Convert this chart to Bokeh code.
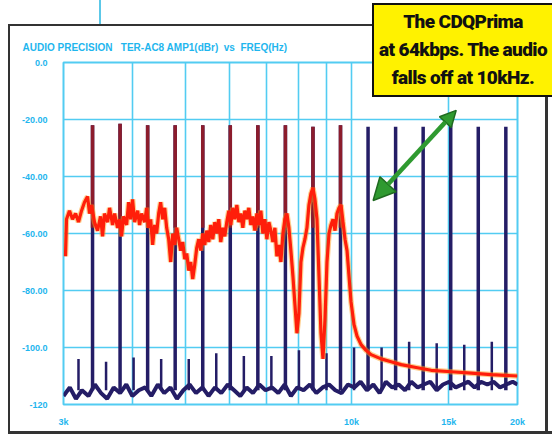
from bokeh.plotting import figure
from bokeh.models import Range1d, FixedTicker, Label, Arrow, NormalHead, Div
from bokeh.embed import file_html
from bokeh.resources import INLINE

# ---------------- data ----------------
x_ticks = [3000, 10000, 15000, 20000]
x_tick_labels = ["3k", "10k", "15k", "20k"]
x_grid = [4000, 5000, 6000, 7000, 8000, 9000, 10000, 15000]
y_ticks = [0, -20, -40, -60, -80, -100, -120]
y_tick_labels = ["0.0", "-20.00", "-40.00", "-60.00", "-80.00", "-100.0", "-120"]
y_grid = [-20, -40, -60, -80, -100]

# multitone test tones (reference / blue trace)
tone_freq = [3387, 3800, 4264, 4784, 5368, 6023, 6758, 7583, 8508, 9546,
             10711, 12018, 13484, 15130, 16976, 19048]
tone_db = [-22, -21.5, -22, -22, -22, -22, -22, -22, -22.5, -22,
           -22.5, -22.5, -22.5, -22, -22.5, -22.5]
tone_floor = -115

# tones that survive in the codec output (red trace), below 10 kHz
red_tone_freq = [3387, 3800, 4264, 4784, 5368, 6023, 6758, 7583, 8508, 9546]
red_tone_db = [-22, -21.5, -22, -22, -22, -22, -22, -22, -22.5, -22]
red_tone_base = -58

# small intermodulation spikes of the blue trace
mid_freq = [3194, 3584, 4021, 4512, 5063, 5680, 6374, 7151, 8024, 9003,
            10102, 11334, 12717, 14269, 16010, 17964]
mid_db = [-104, -105, -103.5, -104, -104, -102, -103, -103, -101, -102,
          -100, -100, -98, -98.5, -99, -98]

blue_floor = [(3000, -117), (3080, -114), (3160, -118), (3240, -115), (3330, -117), (3420, -113),
              (3510, -116), (3600, -118), (3700, -114), (3800, -116), (3900, -113), (4000, -117),
              (4110, -115), (4220, -114), (4330, -117), (4450, -113), (4570, -116), (4690, -114),
              (4820, -118), (4950, -115), (5080, -113), (5220, -116), (5360, -114), (5500, -117),
              (5650, -114), (5800, -116), (5960, -113), (6120, -115), (6280, -117), (6450, -114),
              (6620, -116), (6800, -113), (6980, -115), (7170, -114), (7360, -116), (7560, -113),
              (7760, -117), (7970, -114), (8180, -115), (8400, -113), (8630, -116), (8860, -114),
              (9100, -113), (9340, -115), (9590, -116), (9850, -113), (10110, -114), (10380, -112),
              (10660, -115), (10950, -113), (11240, -116), (11540, -112), (11850, -114), (12170, -113),
              (12500, -115), (12830, -112), (13180, -114), (13530, -113), (13890, -112), (14270, -115),
              (14650, -113), (15040, -112), (15450, -114), (15860, -113), (16290, -112), (16720, -114),
              (17170, -112), (17630, -113), (18100, -112), (18590, -114), (19090, -113), (19600, -112),
              (20000, -113)]
blue_freq = [f for f, _ in blue_floor]
blue_db = [d for _, d in blue_floor]

red_trace = [(3025, -68), (3038, -55), (3076, -52), (3115, -55), (3155, -53), (3194, -56), (3235, -52),
             (3275, -49), (3317, -47), (3345, -53), (3373, -50), (3415, -56), (3459, -59), (3502, -54),
             (3532, -61), (3561, -53), (3607, -56), (3637, -51), (3683, -57), (3714, -53), (3761, -58),
             (3792, -55), (3824, -61), (3856, -54), (3905, -57), (3938, -49), (3971, -55), (4004, -48),
             (4038, -56), (4089, -52), (4123, -57), (4158, -53), (4211, -56), (4246, -51), (4282, -58),
             (4318, -55), (4354, -64), (4391, -57), (4427, -60), (4465, -53), (4502, -49), (4541, -55),
             (4579, -51), (4617, -58), (4656, -62), (4695, -70), (4735, -60), (4774, -64), (4815, -58),
             (4855, -62), (4896, -66), (4937, -63), (4979, -69), (5021, -67), (5063, -73), (5105, -70),
             (5148, -76), (5191, -71), (5235, -65), (5279, -62), (5323, -66), (5368, -60), (5413, -64),
             (5459, -59), (5505, -63), (5551, -57), (5598, -62), (5645, -56), (5692, -60), (5740, -55),
             (5788, -63), (5837, -58), (5886, -61), (5936, -56), (5986, -52), (6036, -57), (6087, -51),
             (6138, -55), (6190, -50), (6242, -56), (6294, -53), (6347, -58), (6400, -52), (6454, -55),
             (6508, -51), (6563, -57), (6618, -54), (6674, -59), (6730, -53), (6787, -57), (6844, -52),
             (6901, -60), (6959, -55), (7018, -62), (7077, -56), (7136, -59), (7196, -63), (7257, -58),
             (7318, -68), (7379, -64), (7441, -70), (7504, -60), (7567, -55), (7631, -53), (7695, -58),
             (7759, -66), (7825, -75), (7891, -85), (7957, -95), (8024, -88), (8091, -70), (8159, -65),
             (8228, -62), (8297, -58), (8367, -50), (8437, -46), (8508, -44), (8580, -48), (8652, -55),
             (8725, -75), (8798, -95), (8872, -104), (8947, -90), (9022, -70), (9098, -60), (9174, -57),
             (9251, -55), (9329, -59), (9407, -53), (9487, -51), (9567, -50), (9647, -56), (9728, -62),
             (9810, -66), (9892, -75), (9975, -84), (10101, -92), (10229, -96), (10402, -99),
             (10622, -101), (10847, -102.5), (11311, -104), (11795, -105), (12300, -106), (13095, -107),
             (13943, -108), (15159, -108.5), (16486, -109), (17924, -109.5), (20000, -110)]
red_freq = [f for f, _ in red_trace]
red_db = [d for _, d in red_trace]

NB = "\u00a0"
title_text = f"AUDIO PRECISION{NB}{NB}{NB}TER-AC8 AMP1(dBr){NB}{NB}vs{NB}{NB}FREQ(Hz)"
callout_lines = ["The CDQPrima", "at 64kbps. The audio", "falls off at 10kHz."]
arrow_from = (15480, -16.8)
arrow_to = (10940, -48.4)

# ---------------- styles ----------------
CYAN = "#1fb6ee"
GRID = "#52ccf2"
NAVY = "#241d66"
RED = "#ff1e0a"
HALO = "#ffa020"
MAROON = "#8c1c2c"
GREEN = "#2f9a30"
FONT = "Liberation Sans"

p = figure(width=552, height=435, x_axis_type="log",
           x_range=Range1d(3000, 20000), y_range=Range1d(-120, 0),
           output_backend="svg", toolbar_location=None,
           min_border_left=63, min_border_right=35, min_border_top=62, min_border_bottom=31)
p.border_fill_color = None
p.background_fill_color = "white"
p.outline_line_color = GRID
p.outline_line_width = 2

# axes
for ax in (p.xaxis, p.yaxis):
    ax.axis_line_color = None
    ax.major_tick_line_color = None
    ax.minor_tick_line_color = None
    ax.major_label_text_color = CYAN
    ax.major_label_text_font = FONT
    ax.major_label_text_font_style = "bold"
    ax.major_label_text_font_size = "9px"
p.xaxis.ticker = FixedTicker(ticks=x_ticks)
p.xaxis.major_label_overrides = {t: l for t, l in zip(x_ticks, x_tick_labels)}
p.xaxis.major_label_standoff = 6
p.yaxis.ticker = FixedTicker(ticks=y_ticks)
p.yaxis.major_label_overrides = {t: l for t, l in zip(y_ticks, y_tick_labels)}
p.yaxis.major_label_standoff = 10

p.xgrid.ticker = FixedTicker(ticks=x_grid)
p.ygrid.ticker = FixedTicker(ticks=y_grid)
for g in (p.xgrid, p.ygrid):
    g.grid_line_color = GRID
    g.grid_line_width = 1.6

# title
p.title.text = title_text
p.title.text_color = CYAN
p.title.text_font = FONT
p.title.text_font_style = "bold"
p.title.text_font_size = "10px"
p.title.align = "left"
p.title.offset = -41
p.title.standoff = 20

# traces
p.line(blue_freq, blue_db, line_color=NAVY, line_width=4)
p.segment(x0=tone_freq, y0=[tone_floor] * len(tone_freq), x1=tone_freq, y1=tone_db,
          line_color=NAVY, line_width=3.5)
p.segment(x0=mid_freq, y0=[tone_floor] * len(mid_freq), x1=mid_freq, y1=mid_db,
          line_color=NAVY, line_width=2.5)
p.segment(x0=red_tone_freq, y0=[red_tone_base] * len(red_tone_freq), x1=red_tone_freq, y1=red_tone_db,
          line_color=MAROON, line_width=3.5)
p.line(red_freq, red_db, line_color=HALO, line_width=5.5, line_alpha=0.5)
p.line(red_freq, red_db, line_color=RED, line_width=3.2)

# arrow
p.add_layout(Arrow(start=NormalHead(size=16, fill_color=GREEN, line_color="#1f6a20", line_width=1.5),
                   end=NormalHead(size=22, fill_color=GREEN, line_color="#1f6a20", line_width=1.5),
                   x_start=arrow_from[0], y_start=arrow_from[1], x_end=arrow_to[0], y_end=arrow_to[1],
                   line_color=GREEN, line_width=4.5))

# callout box (floating HTML element over the plot)
callout = Div(text="<br>".join(callout_lines), styles={
    "position": "absolute", "left": "372px", "top": "3px", "width": "180px", "height": "94px",
    "box-sizing": "border-box", "background": "#fff200", "border": "2px solid #111",
    "border-right": "none", "overflow": "hidden", "white-space": "nowrap",
    "font-family": "Roboto, 'Liberation Sans Narrow', sans-serif", "font-weight": "900",
    "font-size": "19px", "letter-spacing": "-0.6px", "line-height": "28px", "padding-top": "3px",
    "text-align": "center", "color": "#111", "z-index": "10",
})
try:
    p.elements = [callout]
except AttributeError:
    p.add_layout(Label(x=15897, y=-5, text="\n".join(callout_lines), text_align="center",
                       text_font_style="bold", text_font_size="16px",
                       background_fill_color="#fff200", border_line_color="black"))

# scan frame lines (page decoration)
bg = ", ".join([
    "linear-gradient(#333,#333) 8px 24px / 364px 2px no-repeat",
    "linear-gradient(#333,#333) 8px 25px / 2px 408px no-repeat",
    "linear-gradient(#333,#333) 8px 431px / 544px 3px no-repeat",
    "linear-gradient(#333,#333) 545px 97px / 3px 336px no-repeat",
    "linear-gradient(#5cc8e8,#5cc8e8) 99px 0px / 2px 25px no-repeat",
])
p.styles = {"background": bg}

open("out.html", "w").write(file_html(p, INLINE))
